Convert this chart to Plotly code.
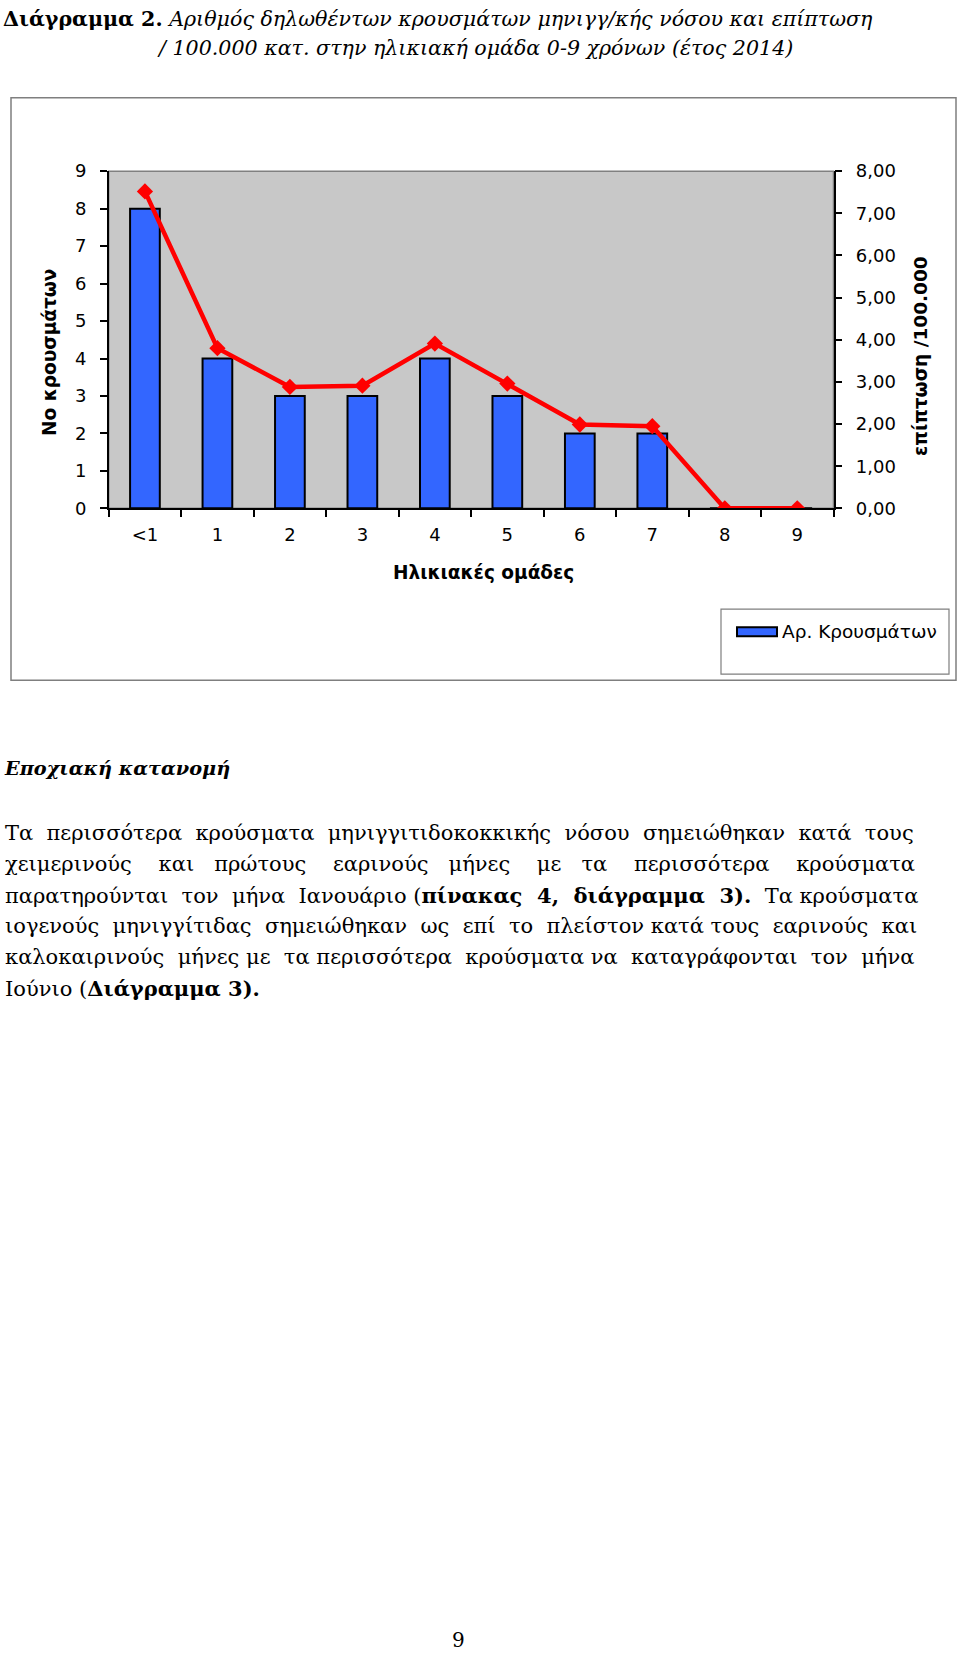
import plotly.graph_objects as go

# ---------------- data ----------------
age_groups = ["<1", "1", "2", "3", "4", "5", "6", "7", "8", "9"]
cases = [8, 4, 3, 3, 4, 3, 2, 2, 0, 0]
incidence = [7.52, 3.80, 2.88, 2.91, 3.91, 2.96, 1.99, 1.95, 0.0, 0.0]
left_ticks = [0, 1, 2, 3, 4, 5, 6, 7, 8, 9]
right_ticks = [0, 1, 2, 3, 4, 5, 6, 7, 8]
bar_name = "Αρ. Κρουσμάτων"
line_name = "επίπτωση /100.000"

W, H = 960, 1657


def px(x):
    return x / W


def py(y):
    # vertical pixel (as seen in the final picture) -> paper fraction,
    # compensating the small vertical offset/scale observed in the photographed page
    spec = (y - 10.2) / 0.9868
    return 1 - spec / H


SERIF = "DejaVu Serif"
SANS = "DejaVu Sans"
NB = "\u00a0"
BLUE = "#3366FF"

fig = go.Figure()
fig.add_trace(go.Bar(
    x=age_groups, y=cases, name=bar_name,
    marker=dict(color=BLUE, line=dict(color="black", width=2)),
    width=0.41, yaxis="y", showlegend=False,
))
fig.add_trace(go.Scatter(
    x=age_groups, y=incidence, name=line_name,
    mode="lines+markers", yaxis="y2", showlegend=False,
    line=dict(color="#FF0000", width=4.5),
    marker=dict(symbol="diamond", size=12.5, color="#FF0000"),
))

PL, PR, PT, PB = 108.7, 833.5, 170.3, 507.3

shapes = [
    dict(type="rect", xref="paper", yref="paper", x0=px(11), x1=px(956), y0=py(679), y1=py(97),
         line=dict(color="#7f7f7f", width=1.5), fillcolor="rgba(0,0,0,0)", layer="below"),
    dict(type="rect", xref="paper", yref="paper", x0=px(PL), x1=px(PR), y0=py(PB), y1=py(PT),
         line=dict(color="#808080", width=1.5), fillcolor="rgba(0,0,0,0)", layer="below"),
    # legend frame and swatch
    dict(type="rect", xref="paper", yref="paper", x0=px(721), x1=px(949), y0=py(673), y1=py(608),
         line=dict(color="#7f7f7f", width=1.2), fillcolor="white", layer="below"),
    dict(type="rect", xref="paper", yref="paper", x0=px(737), x1=px(777), y0=py(635), y1=py(626),
         line=dict(color="black", width=2), fillcolor=BLUE, layer="above"),
]

annotations = [
    dict(text="<b>Διάγραμμα 2.</b> <i>Αριθμός δηλωθέντων κρουσμάτων μηνιγγ/κής νόσου και επίπτωση</i>",
         x=px(1), y=py(18), xanchor="left", yanchor="middle", font=dict(family=SERIF, size=20.6)),
    dict(text="<i>/ 100.000 κατ. στην ηλικιακή ομάδα 0-9 χρόνων (έτος 2014)</i>",
         x=px(155), y=py(47), xanchor="left", yanchor="middle", font=dict(family=SERIF, size=20.6)),
    dict(text="<b><i>Εποχιακή κατανομή</i></b>",
         x=px(2), y=py(767), xanchor="left", yanchor="middle", font=dict(family=SERIF, size=19.3)),
    dict(text="9", x=px(458), y=py(1638), xanchor="center", yanchor="middle",
         font=dict(family=SERIF, size=20)),
    dict(text=bar_name, x=px(780), y=py(630), xanchor="left", yanchor="middle",
         font=dict(family=SANS, size=18.5)),
]

para_words = [
    ["Τα", "περισσότερα", "κρούσματα", "μηνιγγιτιδοκοκκικής", "νόσου", "σημειώθηκαν", "κατά", "τους"],
    ["χειμερινούς", "και", "πρώτους", "εαρινούς", "μήνες", "με", "τα", "περισσότερα", "κρούσματα"],
    ["παρατηρούνται", "τον", "μήνα", "Ιανουάριο", "(<b>πίνακας", "4,", "διάγραμμα", "3).</b>", "Τα", "κρούσματα"],
    ["ιογενούς", "μηνιγγίτιδας" + NB, "σημειώθηκαν", "ως", "επί", "το", "πλείστον", "κατά", "τους", "εαρινούς", "και"],
    ["καλοκαιρινούς", "μήνες", "με", "τα", "περισσότερα", "κρούσματα", "να", "καταγράφονται" + NB, "τον", "μήνα"],
    ["Ιούνιο", "(<b>Διάγραμμα", "3).</b>"],
]
# extra non-breaking spaces per gap to emulate the justified paragraph
gap_extra = [
    [1, 1, 1, 1, 1, 1, 1],
    [3, 2, 3, 2, 3, 2, 3, 3],
    [1, 1, 1, 0, 1, 1, 1, 1, 0],
    [1, 0, 1, 1, 1, 1, 0, 0, 1, 1],
    [1, 0, 1, 0, 1, 0, 1, 0, 1],
    [0, 0],
]
line_y = [832, 863, 894, 925, 956, 987]
for words, extra, yy in zip(para_words, gap_extra, line_y):
    t = words[0]
    for w, e in zip(words[1:], extra):
        t += " " + NB * e + w
    annotations.append(dict(text=t, x=px(3), y=py(yy), xanchor="left", yanchor="middle",
                            font=dict(family=SERIF, size=21)))

annotations += [
    dict(text="<b>Νο κρουσμάτων</b>", x=px(50), y=py(352), textangle=-90,
         xanchor="center", yanchor="middle", font=dict(family=SANS, size=18.5)),
    dict(text="<b>επίπτωση /100.000</b>", x=px(921), y=py(355), textangle=-90,
         xanchor="center", yanchor="middle", font=dict(family=SANS, size=18.5)),
    dict(text="<b>Ηλικιακές ομάδες</b>", x=px(483), y=py(571),
         xanchor="center", yanchor="middle", font=dict(family=SANS, size=18.5)),
]

for a in annotations:
    a.update(xref="paper", yref="paper", showarrow=False)

fig.update_layout(
    width=W, height=H, autosize=False,
    margin=dict(l=0, r=0, t=0, b=0, pad=0),
    paper_bgcolor="white", plot_bgcolor="#C8C8C8",
    font=dict(family=SANS, size=18, color="black"),
    separators=",.",
    showlegend=False,
    xaxis=dict(domain=[px(PL), px(PR)], type="category", range=[-0.5, 9.5], showgrid=False,
               showline=True, linecolor="black", linewidth=1.5,
               ticks="outside", ticklen=7, tickcolor="black", tickwidth=1.5,
               tickson="boundaries", tickfont=dict(size=18), ticklabelstandoff=9),
    yaxis=dict(domain=[py(PB), py(PT)], range=[0, 9], tickvals=left_ticks, showgrid=False,
               showline=True, linecolor="black", linewidth=1.5, zeroline=False,
               ticks="outside", ticklen=7, tickcolor="black", tickwidth=1.5,
               tickfont=dict(size=18), ticklabelstandoff=10),
    yaxis2=dict(overlaying="y", side="right", anchor="x", range=[0, 8], tickvals=right_ticks,
                tickformat=".2f", showgrid=False, zeroline=False,
                showline=True, linecolor="black", linewidth=1.5,
                ticks="outside", ticklen=7, tickcolor="black", tickwidth=1.5,
                tickfont=dict(size=18), ticklabelstandoff=10),
    shapes=shapes,
    annotations=annotations,
)

fig.write_html(
    "out.html", config={"displayModeBar": False},
    post_script=(
        "document.documentElement.style.margin='0';"
        "document.body.style.margin='0';document.body.style.overflow='hidden';"
        "var gd=document.getElementById('{plot_id}');"
        "gd.style.position='fixed';gd.style.left='0px';gd.style.top='0px';"
    ),
)
